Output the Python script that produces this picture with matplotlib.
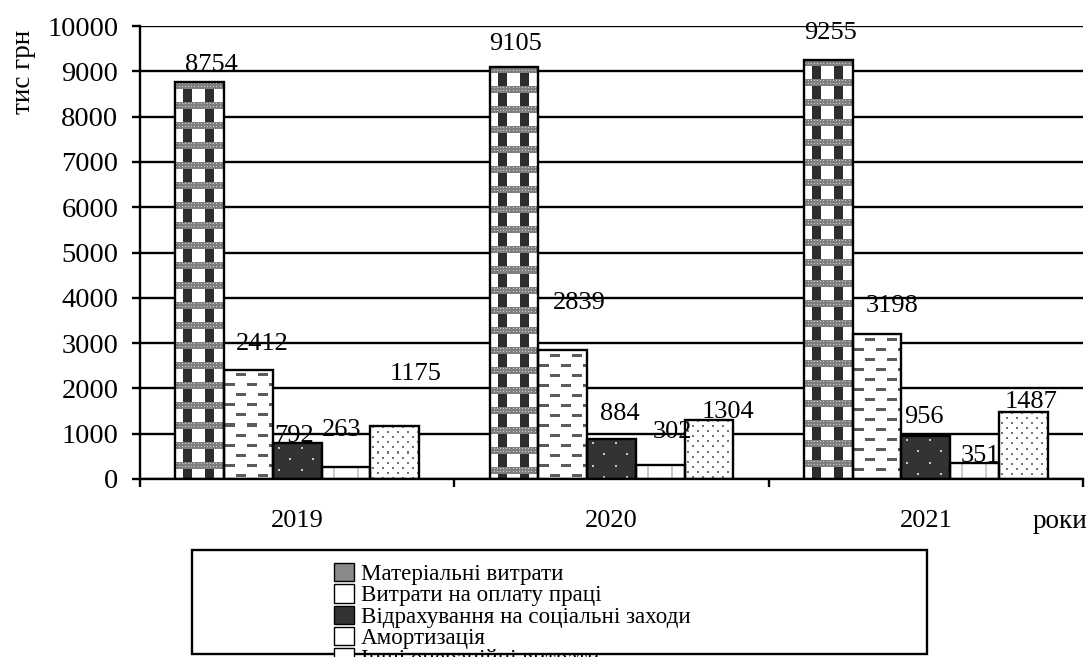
import numpy as np
import matplotlib
matplotlib.use("Agg")
import matplotlib.pyplot as plt
from matplotlib.patches import Rectangle, Patch

# ---- data -------------------------------------------------------------
years = ["2019", "2020", "2021"]
series_names = [
    "Матеріальні витрати",
    "Витрати на оплату праці",
    "Відрахування на соціальні заходи",
    "Амортизація",
    "Інші операційні витрати",
]
material = [8754, 9105, 9255]
labour = [2412, 2839, 3198]
social = [792, 884, 956]
depreciation = [263, 302, 351]
other = [1175, 1304, 1487]
y_ticks = list(range(0, 10001, 1000))

# label placement: pixel offsets (dx, dy) from the top centre of each bar
label_offsets = [
    [(12, 11), (1, 17), (2, 21)],
    [(14, 20), (17, 41), (15, 22)],
    [(-3, 1), (8, 19), (-2, 13)],
    [(-4, 31), (12, 27), (6, 1)],
    [(21, 46), (19, 2), (8, 4)],
]

plt.rcParams["font.family"] = ["Liberation Serif", "DejaVu Serif"]

W, H, DPI = 1090, 657, 100
fig = plt.figure(figsize=(W / DPI, H / DPI), dpi=DPI, facecolor="white")
ax = fig.add_axes([140 / W, (H - 479) / H, (1083 - 140) / W, (479 - 26) / H])

ax.set_xlim(-0.5, 2.5)
ax.set_ylim(0, 10000)


# ---- fill textures (RGB tiles) -----------------------------------------
def tile_material():
    t = np.ones((20, 22, 3))
    t[:, 8:17] = 0.18
    for y in range(7):
        for x in range(22):
            t[y, x] = 0.8 if (x % 3 == 1 and y % 3 == 1) else 0.5
    return t


def tile_labour():
    t = np.ones((20, 22, 3))
    dash = 0.36
    t[4:7, 12:22] = dash
    for x in range(1, 11):
        t[14:17, x] = dash
    return t


def tile_social():
    t = np.full((22, 23, 3), 0.2)
    t[4:6, 5:7] = 0.78
    t[15:17, 16:18] = 0.78
    return t


def tile_depreciation():
    t = np.ones((4, 24, 3))
    t[:, 11:13] = 0.8
    return t


def tile_other():
    t = np.ones((10, 10, 3))
    t[1:3, 2:4] = 0.45
    t[6:8, 7:9] = 0.45
    return t


tiles = [tile_material(), tile_labour(), tile_social(), tile_depreciation(), tile_other()]
series = [material, labour, social, depreciation, other]

# ---- bars --------------------------------------------------------------
x = np.arange(len(years))
bar_w = 0.155
n = len(series)

for i, (vals, tile) in enumerate(zip(series, tiles)):
    pos = x + (i - (n - 1) / 2) * bar_w
    bars = ax.bar(pos, vals, width=bar_w, facecolor="none", edgecolor="black",
                  linewidth=1.7, zorder=3)
    for rect, v, xc, (dx, dy) in zip(bars, vals, pos, label_offsets[i]):
        x0, x1 = rect.get_x(), rect.get_x() + rect.get_width()
        (px0, py0), (px1, py1) = ax.transData.transform([(x0, 0), (x1, v)])
        wpx = max(int(round(px1 - px0)), 1)
        hpx = max(int(round(py1 - py0)), 1)
        th, tw = tile.shape[:2]
        img = np.tile(tile, (hpx // th + 2, wpx // tw + 2, 1))[:hpx, :wpx]
        im = ax.imshow(img, extent=(x0, x1, 0, v), aspect="auto",
                       interpolation="nearest", zorder=2.5)
        im.set_clip_path(rect)
        ax.annotate(str(v), xy=(xc, v), xytext=(dx, dy), textcoords="offset pixels",
                    ha="center", va="baseline", fontsize=19, zorder=4)

ax.set_xlim(-0.5, 2.5)
ax.set_ylim(0, 10000)

# ---- axes styling ------------------------------------------------------
ax.set_axisbelow(True)
ax.yaxis.grid(True, color="black", linewidth=1.7)
ax.set_yticks(y_ticks)
ax.set_yticklabels([str(t) for t in y_ticks])
ax.tick_params(axis="y", length=6, width=1.7, pad=9.5, labelsize=20.5, direction="out")

ax.set_xticks(x)
ax.set_xticklabels(years)
ax.set_xticks([-0.5, 0.5, 1.5, 2.5], minor=True)
ax.tick_params(axis="x", which="major", length=0, pad=22.5, labelsize=19)
ax.tick_params(axis="x", which="minor", length=6, width=1.7, direction="out")

for side in ("top", "right"):
    ax.spines[side].set_visible(False)
for side in ("left", "bottom"):
    ax.spines[side].set_linewidth(1.7)

fig.text(24 / W, 1 - 72 / H, "тис грн", rotation=90, ha="center", va="center", fontsize=19.5)
fig.text(1087 / W, (H - 528) / H, "роки", ha="right", va="baseline", fontsize=19.5)

# ---- legend ------------------------------------------------------------
fig.patches.append(Rectangle((192 / W, (H - 654) / H), (927 - 192) / W, (654 - 550) / H,
                             transform=fig.transFigure, facecolor="none",
                             edgecolor="black", linewidth=1.7, zorder=5))
handles = [
    Patch(facecolor="#8a8a8a", edgecolor="black"),
    Patch(facecolor="white", edgecolor="black"),
    Patch(facecolor="#333333", edgecolor="black"),
    Patch(facecolor="white", edgecolor="black"),
    Patch(facecolor="white", edgecolor="black"),
]
fig.legend(handles, series_names, loc="upper left",
           bbox_to_anchor=(334 / W, (H - 563) / H), frameon=False, fontsize=16.6,
           handlelength=0.85, handleheight=0.85, handletextpad=0.3,
           labelspacing=-0.04, borderpad=0, borderaxespad=0)

fig.savefig("out.png", dpi=DPI, facecolor="white")
